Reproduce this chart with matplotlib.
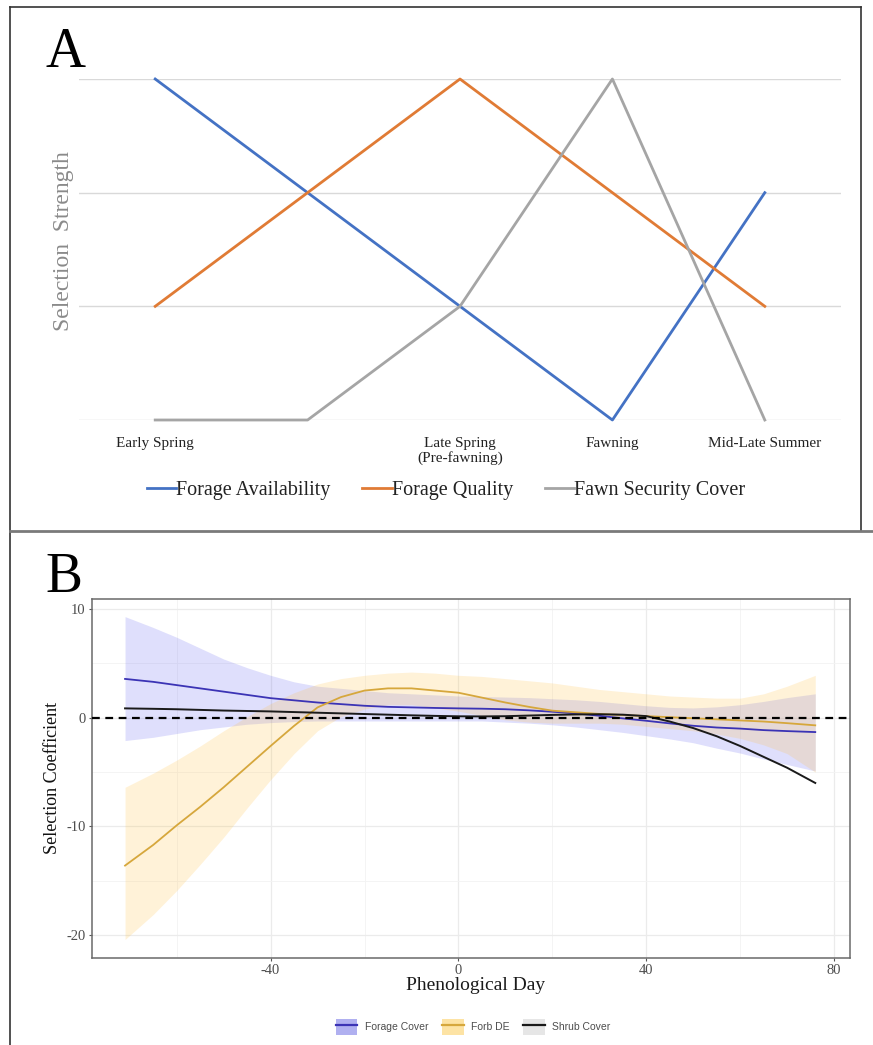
import matplotlib
matplotlib.use("Agg")
import matplotlib.pyplot as plt
from matplotlib.lines import Line2D
from matplotlib.patches import Patch

plt.rcParams["axes.unicode_minus"] = False

# ---------------- Panel A data: conceptual selection strength by season ----------------
seasons = ["Early Spring", "", "Late Spring\n(Pre-fawning)", "Fawning", "Mid-Late Summer"]
forage_availability = [3, 2, 1, 0, 2]
forage_quality = [1, 2, 3, 2, 1]
fawn_security_cover = [0, 0, 1, 3, 0]
strength_levels = [0, 1, 2, 3]

# ---------------- Panel B data: selection coefficients by phenological day ----------------
pheno_day = [-71, -65, -60, -55, -50, -45, -40, -35, -30, -25, -20, -15, -10, -5, 0,
             5, 10, 15, 20, 25, 30, 35, 40, 45, 50, 55, 60, 65, 70, 76]

forage_cover = [3.57, 3.3, 3.0, 2.7, 2.4, 2.1, 1.8, 1.6, 1.4, 1.25, 1.1, 1.0, 0.95, 0.9, 0.86,
                0.83, 0.78, 0.68, 0.55, 0.4, 0.18, -0.06, -0.28, -0.52, -0.74, -0.9, -1.0, -1.14, -1.23, -1.32]
forage_cover_lo = [-2.1, -1.8, -1.45, -1.1, -0.85, -0.6, -0.45, -0.35, -0.3, -0.3, -0.3, -0.3, -0.3, -0.3, -0.3,
                   -0.3, -0.4, -0.5, -0.65, -0.85, -1.1, -1.35, -1.65, -1.95, -2.3, -2.8, -3.25, -3.8, -4.3, -4.9]
forage_cover_hi = [9.3, 8.3, 7.4, 6.4, 5.4, 4.6, 3.9, 3.3, 2.9, 2.7, 2.5, 2.3, 2.2, 2.1, 2.0,
                   1.95, 1.9, 1.85, 1.75, 1.65, 1.5, 1.3, 1.1, 0.95, 0.9, 1.0, 1.2, 1.5, 1.85, 2.2]

forb_de = [-13.6, -11.7, -9.9, -8.2, -6.4, -4.5, -2.6, -0.75, 0.95, 1.9, 2.5, 2.7, 2.7, 2.5, 2.3,
           1.85, 1.4, 1.0, 0.65, 0.5, 0.35, 0.25, 0.15, 0.05, -0.05, -0.15, -0.25, -0.35, -0.5, -0.7]
forb_de_lo = [-20.4, -18.1, -15.9, -13.5, -11.0, -8.3, -5.7, -3.3, -1.2, 0.1, 0.8, 1.2, 1.2, 0.9, 0.6,
              0.2, -0.2, -0.4, -0.5, -0.5, -0.5, -0.6, -0.8, -1.0, -1.2, -1.5, -1.9, -2.5, -3.3, -5.0]
forb_de_hi = [-6.4, -5.1, -3.9, -2.6, -1.2, 0.1, 1.3, 2.3, 3.1, 3.6, 3.9, 4.1, 4.2, 4.1, 3.9,
              3.8, 3.6, 3.4, 3.2, 2.9, 2.6, 2.4, 2.2, 2.0, 1.9, 1.8, 1.8, 2.2, 2.9, 3.9]

shrub_cover = [0.86, 0.82, 0.78, 0.72, 0.66, 0.62, 0.58, 0.52, 0.46, 0.4, 0.34, 0.28, 0.22, 0.17, 0.13,
               0.12, 0.14, 0.2, 0.26, 0.3, 0.32, 0.28, 0.15, -0.35, -0.95, -1.7, -2.6, -3.6, -4.6, -6.0]

x_ticks_b = [-40, 0, 40, 80]
y_ticks_b = [-20, -10, 0, 10]

SERIF = ["Liberation Serif", "DejaVu Serif"]
SANS = ["Liberation Sans", "DejaVu Sans"]

W, H = 873, 1045
fig = plt.figure(figsize=(W / 100, H / 100), dpi=100)


def fx(px):
    return px / W


def fy(py):
    return 1 - py / H


# ---------------- frame lines around the panels ----------------
frame_kw = dict(transform=fig.transFigure, clip_on=False)
fig.add_artist(Line2D([fx(10), fx(10)], [fy(7), 0], color="#333333", lw=1.2, **frame_kw))
fig.add_artist(Line2D([fx(10), fx(861)], [fy(7), fy(7)], color="#333333", lw=1.2, **frame_kw))
fig.add_artist(Line2D([fx(861), fx(861)], [fy(7), fy(531)], color="#333333", lw=1.2, **frame_kw))
fig.add_artist(Line2D([fx(10), 1], [fy(531), fy(531)], color="#7a7a7a", lw=2.0, **frame_kw))

# ---------------- Panel A ----------------
axA = fig.add_axes([fx(79), fy(420), fx(841) - fx(79), fy(79) - fy(420)])
xA = list(range(len(seasons)))
for yv in strength_levels:
    axA.axhline(yv, color="#d9d9d9", lw=1.0, zorder=1)
line_kw = dict(lw=2.0, clip_on=False, zorder=3, solid_joinstyle="round")
hA1, = axA.plot(xA, forage_availability, color="#4472C4", label="Forage Availability", **line_kw)
hA2, = axA.plot(xA, forage_quality, color="#E07B35", label="Forage Quality", **line_kw)
hA3, = axA.plot(xA, fawn_security_cover, color="#A5A5A5", label="Fawn Security Cover", **line_kw)
axA.set_xlim(-0.5, len(seasons) - 0.5)
axA.set_ylim(0, 3)
axA.set_xticks(xA)
axA.set_xticklabels(seasons, fontfamily=SERIF, fontsize=11, color="#222222", linespacing=1.15)
axA.set_yticks([])
axA.tick_params(axis="x", length=0, pad=12)
for s in axA.spines.values():
    s.set_visible(False)

fig.text(fx(64), fy(241), "Selection  Strength", rotation=90, ha="center", va="center",
         fontfamily=SERIF, fontsize=17, color="#8a8a8a")
fig.text(fx(46), fy(67), "A", ha="left", va="baseline", fontfamily=SERIF, fontsize=40, color="black")

legA = fig.legend(handles=[hA1, hA2, hA3], loc="center", bbox_to_anchor=(fx(446), fy(490)), ncol=3,
                  frameon=False, prop={"family": SERIF, "size": 14.5}, handlelength=1.45,
                  handletextpad=0.0, columnspacing=1.6)
for t in legA.get_texts():
    t.set_color("#222222")

# ---------------- Panel B ----------------
axB = fig.add_axes([fx(91.7), fy(958), fx(850) - fx(91.7), fy(599) - fy(958)])
axB.set_xlim(-78.1, 83.4)
axB.set_ylim(-22.1, 10.92)
axB.set_xticks(x_ticks_b)
axB.set_xticks([-60, -20, 20, 60], minor=True)
axB.set_yticks(y_ticks_b)
axB.set_yticks([-15, -5, 5], minor=True)
axB.grid(which="major", color="#ebebeb", lw=0.9, zorder=0)
axB.grid(which="minor", color="#f3f3f3", lw=0.6, zorder=0)
axB.set_axisbelow(True)

blue_line, blue_fill = "#3b33b5", "#5050f0"
gold_line, gold_fill = "#d6a73c", "#ffc040"
axB.fill_between(pheno_day, forage_cover_lo, forage_cover_hi, color=blue_fill, alpha=0.18, lw=0, zorder=1)
axB.fill_between(pheno_day, forb_de_lo, forb_de_hi, color=gold_fill, alpha=0.2, lw=0, zorder=1)
axB.plot(pheno_day, forage_cover, color=blue_line, lw=1.3, zorder=3)
axB.plot(pheno_day, forb_de, color=gold_line, lw=1.3, zorder=3)
axB.plot(pheno_day, shrub_cover, color="#1a1a1a", lw=1.4, zorder=3)
axB.axhline(0, color="black", lw=1.6, linestyle=(0, (3.5, 2.5)), zorder=4)

for s in axB.spines.values():
    s.set_color("#6a6a6a")
    s.set_linewidth(1.1)
axB.tick_params(which="major", length=2.5, width=0.8, color="#555555", labelsize=10.5,
                labelcolor="#4d4d4d", pad=2)
axB.tick_params(which="minor", length=0)
for lab in axB.get_xticklabels() + axB.get_yticklabels():
    lab.set_fontfamily(SERIF)

fig.text(fx(476), fy(986), "Phenological Day", ha="center", va="center",
         fontfamily=SERIF, fontsize=14, color="#1a1a1a")
fig.text(fx(53), fy(778), "Selection Coefficient", rotation=90, ha="center", va="center",
         fontfamily=SERIF, fontsize=13, color="#111111")
fig.text(fx(45), fy(592), "B", ha="left", va="baseline", fontfamily=SERIF, fontsize=40, color="black")

handlesB = [
    (Patch(facecolor="#b0b0f0", edgecolor="none"), Line2D([], [], color=blue_line, lw=1.6)),
    (Patch(facecolor="#fde3a4", edgecolor="none"), Line2D([], [], color=gold_line, lw=1.6)),
    (Patch(facecolor="#e6e6e6", edgecolor="none"), Line2D([], [], color="#1a1a1a", lw=1.6)),
]
legB = fig.legend(handles=handlesB, labels=["Forage Cover", "Forb DE", "Shrub Cover"], loc="center",
                  bbox_to_anchor=(fx(473), fy(1027)), ncol=3, frameon=False,
                  prop={"family": SANS, "size": 7.5}, handlelength=2.1, handleheight=2.0,
                  handletextpad=0.7, columnspacing=1.3)
for t in legB.get_texts():
    t.set_color("#4d4d4d")

fig.savefig("out.png", dpi=100)
